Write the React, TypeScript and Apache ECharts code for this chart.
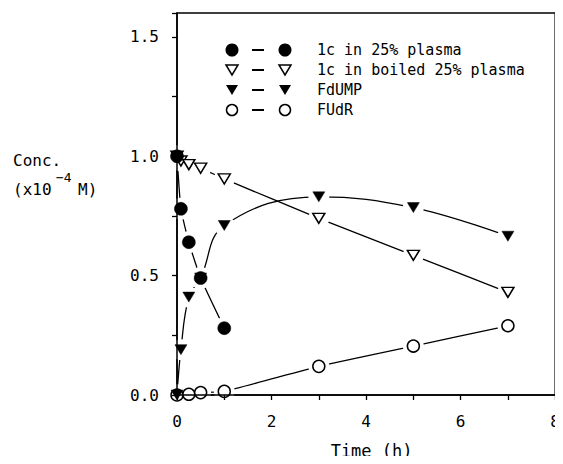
import React, { useEffect, useRef } from "react";
import * as echarts from "echarts";

// ---- data ----
const plasmaT = [0, 0.083, 0.25, 0.5, 1];
const plasmaConc = [1.0, 0.78, 0.64, 0.49, 0.28];

const boiledT = [0, 0.083, 0.25, 0.5, 1, 3, 5, 7];
const boiledConc = [1.0, 0.98, 0.965, 0.95, 0.905, 0.74, 0.585, 0.43];

const fdumpT = [0, 0.083, 0.25, 0.5, 1, 3, 5, 7];
const fdumpConc = [0, 0.19, 0.41, 0.49, 0.71, 0.83, 0.785, 0.665];

const fudrT = [0, 0.25, 0.5, 1, 3, 5, 7];
const fudrConc = [0, 0.003, 0.01, 0.015, 0.12, 0.205, 0.29];

const legendLabels = [
  "1c in 25% plasma",
  "1c in boiled 25% plasma",
  "FdUMP",
  "FUdR",
];

const xTicks = [0, 2, 4, 6, 8];
const yTicks = [0, 0.5, 1.0, 1.5];

const FONT = '"DejaVu Sans Mono", monospace';

const pairs = (t: number[], v: number[]) => t.map((x, i) => [x, v[i]]);

type Marker = {
  name: string;
  t: number[];
  v: number[];
  symbol: string;
  rotate: number;
  size: number;
  filled: boolean;
  smooth: number;
};

const markers: Marker[] = [
  { name: legendLabels[0], t: plasmaT, v: plasmaConc, symbol: "circle", rotate: 0, size: 13, filled: true, smooth: 0.15 },
  { name: legendLabels[1], t: boiledT, v: boiledConc, symbol: "triangle", rotate: 180, size: 12, filled: false, smooth: 0.15 },
  { name: legendLabels[2], t: fdumpT, v: fdumpConc, symbol: "triangle", rotate: 180, size: 12, filled: true, smooth: 0.4 },
  { name: legendLabels[3], t: fudrT, v: fudrConc, symbol: "circle", rotate: 0, size: 12, filled: false, smooth: 0.15 },
];

export default function App() {
  const ref = useRef<HTMLDivElement>(null);

  useEffect(() => {
    if (!ref.current) return;
    const chart = echarts.init(ref.current, undefined, { renderer: "svg" });

    const series: any[] = [];
    markers.forEach((m) => {
      const data = pairs(m.t, m.v);
      series.push({
        type: "line",
        name: m.name + " line",
        data,
        showSymbol: false,
        smooth: m.smooth,
        lineStyle: { color: "#000", width: 1.3 },
        z: 2,
        silent: true,
      });
      series.push({
        type: "line",
        name: m.name + " halo",
        data,
        showSymbol: true,
        showAllSymbol: true,
        symbol: "circle",
        symbolSize: m.size + 9,
        lineStyle: { width: 0, opacity: 0 },
        itemStyle: { color: "#fff", borderWidth: 0, opacity: 1 },
        emphasis: { disabled: true },
        z: 3,
        silent: true,
      });
    });
    markers.forEach((m) => {
      series.push({
        type: "line",
        name: m.name,
        data: pairs(m.t, m.v),
        showSymbol: true,
        showAllSymbol: true,
        symbol: m.symbol,
        symbolRotate: m.rotate,
        symbolSize: m.symbol === "triangle" ? [m.size, m.size - 2] : m.size,
        lineStyle: { width: 0, opacity: 0 },
        itemStyle: m.filled
          ? { color: "#000", borderColor: "#000", borderWidth: 0.5, opacity: 1 }
          : { color: "#fff", borderColor: "#000", borderWidth: 1.5, opacity: 1 },
        emphasis: { disabled: true },
        z: m.filled ? 5 : 4,
      });
    });

    // legend drawn as graphic
    const legendRows = [50, 70, 90, 110];
    const lx1 = 232;
    const lx2 = 285;
    const legendGraphics: any[] = [];
    const drawSym = (m: Marker, cx: number, cy: number) => {
      if (m.symbol === "circle") {
        return {
          type: "circle",
          shape: { cx, cy, r: m.filled ? 6.5 : 5.5 },
          style: m.filled
            ? { fill: "#000" }
            : { fill: "#fff", stroke: "#000", lineWidth: 1.5 },
        };
      }
      return {
        type: "polygon",
        shape: {
          points: [
            [cx - 6, cy - 5],
            [cx + 6, cy - 5],
            [cx, cy + 5],
          ],
        },
        style: m.filled
          ? { fill: "#000" }
          : { fill: "#fff", stroke: "#000", lineWidth: 1.5 },
      };
    };
    markers.forEach((m, i) => {
      const cy = legendRows[i];
      legendGraphics.push(drawSym(m, lx1, cy));
      legendGraphics.push({
        type: "line",
        shape: { x1: 252, y1: cy, x2: 264, y2: cy },
        style: { stroke: "#000", lineWidth: 2 },
      });
      legendGraphics.push(drawSym(m, lx2, cy));
      legendGraphics.push({
        type: "text",
        x: 317,
        y: cy,
        style: {
          text: legendLabels[i],
          fontFamily: FONT,
          fontSize: 15,
          fill: "#000",
          verticalAlign: "middle",
          align: "left",
        },
      });
    });

    const yName: any[] = [
      {
        type: "text",
        x: 13,
        y: 160,
        style: { text: "Conc.", fontFamily: FONT, fontSize: 16, fill: "#000", verticalAlign: "middle" },
      },
      {
        type: "text",
        x: 13,
        y: 189,
        style: { text: "(x10", fontFamily: FONT, fontSize: 16, fill: "#000", verticalAlign: "middle" },
      },
      {
        type: "text",
        x: 56,
        y: 177,
        style: { text: "\u22124", fontFamily: FONT, fontSize: 13, fill: "#000", verticalAlign: "middle" },
      },
      {
        type: "text",
        x: 78,
        y: 189,
        style: { text: "M)", fontFamily: FONT, fontSize: 16, fill: "#000", verticalAlign: "middle" },
      },
    ];

    const near = (v: number, arr: number[]) => arr.some((a) => Math.abs(a - v) < 1e-6);

    chart.setOption({
      animation: false,
      backgroundColor: "#fff",
      grid: {
        left: 177,
        right: 3,
        top: 13,
        bottom: 64,
        show: true,
        borderColor: "#000",
        borderWidth: 1.5,
        backgroundColor: "transparent",
      },
      xAxis: {
        type: "value",
        min: 0,
        max: 8,
        interval: 1,
        z: 6,
        name: "Time (h)",
        nameLocation: "middle",
        nameGap: 47,
        nameTextStyle: { fontFamily: FONT, fontSize: 17, color: "#000", padding: [0, 0, 0, 11] },
        axisLine: { show: true, lineStyle: { color: "#000", width: 1.5 } },
        axisTick: { show: true, inside: false, length: 5, lineStyle: { color: "#000", width: 1.3 } },
        axisLabel: {
          margin: 18,
          fontFamily: FONT,
          fontSize: 16,
          color: "#000",
          formatter: (v: number) => (near(v, xTicks) ? String(v) : ""),
        },
        splitLine: { show: false },
      },
      yAxis: {
        type: "value",
        min: 0,
        max: 1.6,
        interval: 0.25,
        z: 6,
        axisLine: { show: true, lineStyle: { color: "#000", width: 1.5 } },
        axisTick: { show: true, inside: false, length: 5, lineStyle: { color: "#000", width: 1.3 } },
        axisLabel: {
          margin: 18,
          fontFamily: FONT,
          fontSize: 16,
          color: "#000",
          formatter: (v: number) => (near(v, yTicks) ? v.toFixed(1) : ""),
        },
        splitLine: { show: false },
      },
      graphic: [...legendGraphics, ...yName],
      series,
    });

    return () => chart.dispose();
  }, []);

  return <div ref={ref} style={{ width: 563, height: 464, margin: -8 }} />;
}
